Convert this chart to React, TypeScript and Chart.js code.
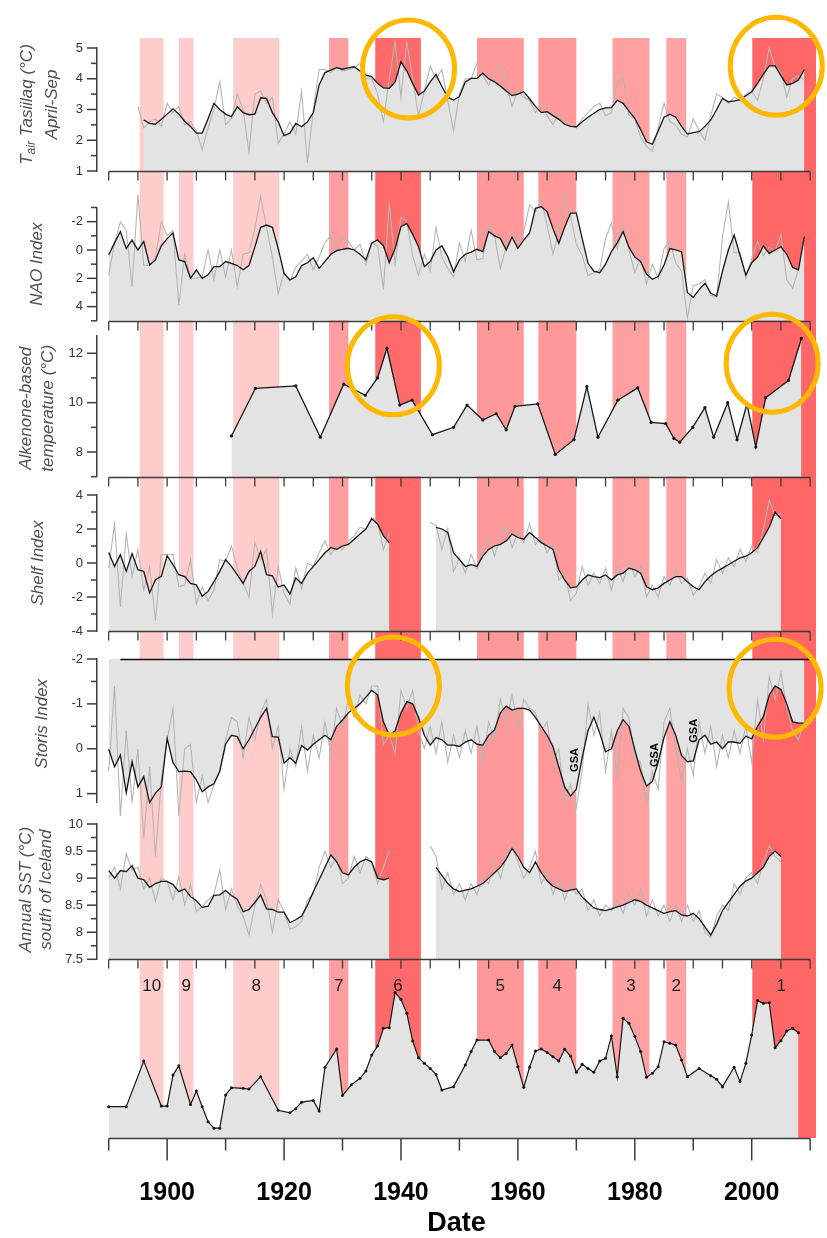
import React, { useEffect, useRef } from 'react';
import { Chart, registerables } from 'chart.js';

Chart.register(...registerables);

// ---------------- data ----------------

// Air temperature at Tasiilaq, April–September (°C)
const TAS_ANNUAL_START = 1895;
const tasAnnual = [
  3.1, 2.4, 2.6, 2.7, 2.45, 3.2, 2.9, 3.1, 2.5, 2.6,
  2.3, 1.7, 2.4, 3.0, 3.9, 2.5, 2.7, 3.5, 3.0, 1.6,
  3.5, 3.6, 3.2, 3.4, 1.9, 2.2, 2.6, 2.2, 3.6, 1.25,
  3.0, 4.3, 4.3, 4.2, 4.4, 4.25, 4.3, 4.35, 4.5, 4.0,
  4.0, 3.5, 2.6, 4.0, 5.2, 3.4, 5.2, 4.0, 2.8, 3.6,
  4.4, 4.0, 4.3, 3.3, 2.3, 3.5, 4.0, 4.0, 4.5, 4.1,
  3.8, 4.2, 4.4, 3.8, 3.1, 3.6, 3.4, 3.3, 2.9, 3.1,
  2.8, 2.5, 2.9, 2.6, 2.5, 2.4, 2.7, 2.9, 3.1, 3.2,
  2.8, 2.9, 3.9, 4.05, 2.8, 2.7, 2.1, 1.8, 1.65, 2.4,
  3.2, 2.6, 2.5, 2.2, 2.1, 2.7, 2.3, 2.0, 2.8, 3.5,
  3.4, 3.2, 3.4, 3.3, 3.5, 3.6, 3.3, 4.0, 5.0, 4.4,
  4.2, 3.4, 4.0, 4.1, 3.95,
];
const TAS_SMOOTH_START = 1896;
const tasSmooth = [
  2.66, 2.55, 2.52, 2.68, 2.85, 3.02, 2.85, 2.62, 2.45, 2.23,
  2.23, 2.7, 3.2, 3.0, 2.85, 2.77, 3.09, 2.9, 2.83, 2.85,
  3.38, 3.36, 2.9, 2.6, 2.15, 2.23, 2.55, 2.44, 2.6, 2.9,
  3.8, 4.2, 4.28, 4.36, 4.31, 4.35, 4.39, 4.25, 4.12, 4.07,
  3.85, 3.7, 3.69, 3.9, 4.55, 4.25, 3.85, 3.47, 3.6, 3.9,
  4.14, 3.75, 3.4, 3.31, 3.42, 3.9, 4.01, 4.01, 4.18, 4.0,
  3.9, 3.76, 3.6, 3.45, 3.5, 3.58, 3.35, 3.1, 2.9, 2.93,
  2.8, 2.68, 2.52, 2.45, 2.44, 2.6, 2.75, 2.88, 3.0, 3.05,
  3.06, 3.3, 3.2, 2.95, 2.71, 2.35, 1.95, 1.87, 2.3, 2.75,
  2.85, 2.75, 2.45, 2.2, 2.25, 2.28, 2.45, 2.66, 3.0, 3.36,
  3.25, 3.28, 3.31, 3.45, 3.58, 3.85, 4.15, 4.42, 4.42, 4.1,
  3.8, 3.85, 3.96, 4.3,
];

// North Atlantic Oscillation index
const NAO_START = 1890;
const naoAnnual = [
  1.8, -0.5, -2.0, -1.4, 2.6, -3.9, 1.1, 1.1, 0.5, -2.0,
  -1.0, -1.4, 3.9, 0.3, 2.0, 2.0, 1.9, 0.0, 2.1, 0.0,
  1.9, 0.0, 2.6, 0.3, 0.2, -1.5, -3.8, -1.6, 0.5, 3.1,
  1.6, 2.2, 1.2, 0.8, 0.3, 1.4, 0.5, -0.5, -1.0, 0.0,
  -0.9, -0.6, 0.0, -0.4, 1.0, -0.5, -0.3, 2.8, -3.3, 1.0,
  -2.3, -2.0, 0.4, 1.8, 0.3, 1.5, -1.6, 0.5, 1.3, 1.9,
  -0.5, 0.8, -1.4, 0.7, 0.6, -1.8, -1.0, 1.3, -0.2, -1.2,
  -0.5, -1.3, -3.2, -2.7, -3.5, -1.8, 0.3, -1.3, -3.9, -2.4,
  -0.4, 0.4, 1.8, 1.6, 1.4, -0.8, -1.9, -0.1, -1.7, 0.0,
  1.6, 0.5, 2.4, 1.0, 2.0, -0.1, -0.6, 0.9, 1.5, 4.8,
  2.5, 2.4, 2.1, 3.2, 3.3, -0.9, -3.4, 0.2, 0.2, 2.0,
  0.6, -0.6, 0.4, -0.2, 0.1, -1.1, 2.1, 2.7, 1.4,
];
const naoSmooth = [
  0.35, -0.5, -1.3, -0.1, -0.7, 0.0, -0.6, 1.06, 0.7, -0.3,
  -0.8, -1.2, 0.7, 0.82, 2.0, 1.4, 2.0, 1.75, 1.18, 1.18,
  0.82, 0.95, 1.1, 1.4, 1.1, -0.2, -1.6, -1.76, -1.6, -0.1,
  1.65, 2.12, 1.9, 1.1, 0.9, 0.55, 1.3, 0.8, 0.3, 0.05,
  -0.05, -0.12, 0.0, 0.3, 0.7, -0.5, -0.7, -0.3, 0.9, -0.1,
  -1.65, -1.88, -1.1, -0.23, 1.18, 0.82, 0.0, -0.3, 0.47, 1.53,
  0.7, 0.3, 0.15, -0.05, 0.12, -1.3, -1.0, -0.82, 0.0, -0.9,
  -0.12, -0.7, -1.2, -2.94, -3.06, -2.7, -1.5, -0.47, -1.6, -2.6,
  -2.6, -0.82, 0.94, 1.5, 1.6, 1.0, 0.12, -0.5, -1.3, -0.2,
  0.5, 0.82, 1.7, 2.07, 1.88, 1.06, -0.1, 0.0, 0.12, 3.0,
  3.35, 2.8, 2.35, 3.06, 3.25, 1.5, 0.0, -1.06, 0.35, 1.76,
  0.9, 0.5, -0.28, 0.24, 0.0, -0.23, 0.3, 1.23, 1.4, -0.94,
];

// Alkenone-based temperature (°C), sampled at irregular years
const alkYears = [
  1911, 1915.1, 1922, 1926.2, 1930.2, 1933.9, 1936, 1937.6, 1939.8, 1941.9,
  1945.4, 1949, 1951.3, 1954, 1956.3, 1958, 1959.5, 1963.4, 1966.4, 1969.6,
  1971.8, 1973.7, 1977.1, 1980.5, 1982.8, 1985.3, 1986.7, 1987.7, 1989.9, 1992,
  1993.5, 1995.9, 1997.5, 1999.2, 2000.7, 2002.4, 2006.3, 2008.5,
];
const alkValues = [
  8.65, 10.58, 10.68, 8.6, 10.75, 10.3, 11.0, 12.2, 9.9, 10.1,
  8.7, 9.0, 9.9, 9.3, 9.55, 8.9, 9.85, 9.95, 7.9, 8.5,
  10.65, 8.6, 10.1, 10.6, 9.2, 9.15, 8.55, 8.4, 9.0, 9.8,
  8.6, 10.0, 8.5, 9.95, 8.2, 10.2, 10.9, 12.6,
];

// Shelf index, two record segments
const SHELF_A_START = 1890;
const shelfAnnualA = [
  -0.3, 2.3, -2.6, 1.7, -0.8, 0.8, -1.6, -0.2, -3.4, 0.5,
  0.5, 0.5, -1.4, -1.3, 0.2, -2.4, -1.4, -2.2, -1.6, 0.2,
  0.1, 1.0, -0.3, -1.2, -2.0, 1.2, 0.2, 0.8, -3.0, -0.2,
  -1.8, -2.4, -0.3, -1.5, 0.0, -0.2, 0.6, 1.3, 0.5, 1.0,
  0.8, 1.3, 1.6, 2.1, 2.0, 2.7, 2.4, 0.8, 1.8,
];
const shelfSmoothA = [
  0.62, -0.2, 0.49, -0.49, 0.55, -0.39, -0.5, -1.76, -0.98, -0.79,
  0.43, -0.1, -0.69, -0.8, -1.2, -1.29, -1.96, -1.67, -1.1, -0.49,
  0.2, -0.2, -0.7, -1.2, -0.5, -0.2, 0.68, -0.69, -0.75, -1.41,
  -1.29, -1.82, -0.88, -1.2, -0.6, -0.2, 0.2, 0.6, 0.9, 0.8,
  1.0, 1.1, 1.4, 1.7, 2.0, 2.6, 2.3, 1.6, 1.2,
];
const SHELF_B_ANNUAL_START = 1945;
const shelfAnnualB = [
  2.4, 2.2, 0.8, 2.0, -0.5, 0.3, -0.6, 0.5, -0.3, 0.8,
  1.6, 0.4, 1.5, 2.2, 0.9, 1.8, 1.2, 2.3, 1.1, 1.5,
  0.6, 1.2, -1.0, -0.6, -2.2, -1.8, -0.2, -1.3, -0.6, -1.2,
  -0.3, -1.6, -0.2, -1.1, 0.1, -0.8, -0.2, -2.0, -1.3, -2.0,
  -0.8, -1.3, -0.4, -1.2, -0.9, -1.9, -1.4, -0.6, -1.2, 0.2,
  -0.6, 0.3, -0.2, 0.8, 0.1, 1.0, 0.6, 2.0, 3.7, 2.8,
  2.9,
];
const SHELF_B_SMOOTH_START = 1946;
const shelfSmoothB = [
  2.1, 2.0, 1.8, 0.6, 0.2, -0.2, -0.1, -0.2, 0.4, 0.8,
  1.0, 1.1, 1.3, 1.7, 1.5, 1.4, 1.8, 1.5, 1.2, 1.0,
  0.8, -0.4, -1.0, -1.46, -1.4, -1.0, -0.7, -0.8, -0.86, -0.7,
  -1.0, -0.7, -0.6, -0.3, -0.4, -0.6, -1.4, -1.57, -1.46, -1.2,
  -1.0, -0.8, -0.8, -1.1, -1.4, -1.57, -1.1, -0.75, -0.5, -0.3,
  -0.1, 0.1, 0.3, 0.4, 0.6, 0.9, 1.5, 2.1, 3.0, 2.6,
];

// Storis index
const STORIS_START = 1890;
const storisAnnual = [
  0.5, -1.4, 1.5, -0.4, 1.2, 0.0, 2.0, 0.4, 2.4, 0.7,
  -0.2, -0.9, 1.5, 0.0, -0.1, 1.2, 0.6, 1.2, 0.8, 0.5,
  -0.2, -0.7, -0.6, 0.2, -0.7, -0.2, -0.8, -1.1, 0.0, -0.5,
  0.9, 0.0, 0.4, -0.5, 0.5, -0.3, 0.2, -0.6, 0.1, -0.9,
  -0.5, -1.1, -0.7, -1.2, -1.0, -1.4, -1.4, -0.1, -0.3, 0.1,
  -1.3, -0.9, -1.3, -0.4, 0.0, -0.5, 0.1, -0.6, 0.3, -0.3,
  0.2, -0.4, 0.1, -0.5, 0.3, -0.6, -0.2, -1.1, -0.6, -1.2,
  -0.5, -1.1, -0.9, -0.8, -0.4, -0.6, 0.3, 0.0, 1.2, 0.8,
  1.3, 0.5, -1.0, -0.3, -0.8, 0.5, -0.4, 0.6, -0.9, -0.7,
  0.2, 0.3, 1.2, 0.5, 0.9, -0.6, -0.9, 0.0, 0.7, 0.0,
  0.6, -0.6, 0.1, -0.5, 0.4, -0.3, 0.2, -0.4, 0.1, -0.5,
  0.3, -1.1, -0.2, -1.6, -1.1, -1.7, -0.9, -0.4, -0.2, -0.6,
];
const storisSmooth = [
  0.01, 0.4, 0.14, 0.98, 0.29, 0.85, 0.62, 1.2, 0.99, 0.85,
  -0.23, 0.31, 0.51, 0.5, 0.51, 0.7, 0.96, 0.85, 0.78, 0.5,
  -0.1, -0.3, -0.27, 0.0, -0.2, -0.45, -0.7, -0.9, -0.27, -0.26,
  0.32, 0.2, 0.32, -0.07, 0.03, -0.1, -0.2, -0.3, -0.2, -0.5,
  -0.64, -0.8, -0.9, -1.0, -1.15, -1.3, -1.2, -0.6, -0.3, -0.4,
  -0.8, -1.05, -1.0, -0.7, -0.3, -0.08, -0.25, -0.2, -0.08, -0.08,
  -0.05, -0.15, -0.2, -0.1, -0.08, -0.3, -0.42, -0.8, -0.95, -0.86,
  -0.9, -0.9, -0.86, -0.7, -0.5, -0.3, -0.05, 0.4, 0.85, 1.05,
  0.9, 0.2, -0.4, -0.7, -0.35, 0.07, 0.0, -0.4, -0.65, -0.5,
  0.02, 0.5, 0.83, 0.73, 0.3, -0.25, -0.6, -0.3, 0.15, 0.29,
  0.27, -0.2, -0.3, -0.1, -0.15, 0.0, -0.15, -0.15, -0.12, -0.28,
  -0.22, -0.5, -0.72, -1.2, -1.4, -1.32, -1.0, -0.6, -0.57, -0.57,
];

// Annual SST south of Iceland (°C), two record segments
const SST_A_START = 1890;
const sstAnnualA = [
  9.0, 9.2, 8.8, 9.45, 9.15, 9.2, 8.8, 9.0, 8.57, 9.0,
  8.94, 8.6, 9.03, 8.5, 8.88, 8.38, 8.48, 8.6, 8.7, 9.15,
  8.42, 8.8, 8.48, 8.3, 7.95, 8.48, 8.88, 8.6, 8.0, 8.6,
  8.38, 8.05, 8.1, 8.2, 8.6, 8.7, 9.2, 9.5, 9.2, 9.4,
  8.9, 9.0, 9.4, 9.1, 9.4, 9.3, 8.9, 9.2, 9.5,
];
const sstSmoothA = [
  9.14, 9.0, 9.14, 9.12, 9.23, 9.0, 8.97, 8.83, 8.9, 8.94,
  8.94, 8.88, 8.75, 8.8, 8.66, 8.58, 8.46, 8.48, 8.68, 8.69,
  8.77, 8.68, 8.61, 8.38, 8.42, 8.55, 8.69, 8.43, 8.42, 8.37,
  8.37, 8.18, 8.23, 8.3, 8.5, 8.75, 8.97, 9.2, 9.43, 9.3,
  9.1, 9.06, 9.2, 9.3, 9.35, 9.3, 9.0, 8.97, 9.0,
];
const SST_B_ANNUAL_START = 1945;
const sstAnnualB = [
  9.6, 9.4, 8.8, 9.1, 8.7, 8.9, 8.6, 8.9, 8.7, 9.0,
  8.9, 9.3, 9.0, 9.4, 9.6, 9.3, 9.0, 9.2, 9.5, 8.9,
  9.1, 8.7, 9.0, 8.6, 8.9, 8.7, 8.8, 8.4, 8.6, 8.3,
  8.5, 8.4, 8.6, 8.35, 8.7, 8.5, 8.8, 8.3, 8.6, 8.3,
  8.5, 8.2, 8.5, 8.2, 8.5, 8.2, 8.4, 8.0, 7.9, 8.3,
  8.5, 8.4, 8.9, 8.7, 9.0, 9.1, 8.9, 9.3, 9.6, 9.4,
  9.3,
];
const SST_B_SMOOTH_START = 1946;
const sstSmoothB = [
  9.2, 9.05, 8.9, 8.8, 8.75, 8.78, 8.8, 8.85, 8.9, 9.0,
  9.1, 9.2, 9.35, 9.55, 9.4, 9.2, 9.1, 9.3, 9.1, 8.95,
  8.85, 8.8, 8.75, 8.78, 8.8, 8.65, 8.55, 8.45, 8.42, 8.4,
  8.43, 8.47, 8.5, 8.55, 8.6, 8.57, 8.5, 8.45, 8.4, 8.35,
  8.38, 8.4, 8.32, 8.3, 8.35, 8.25, 8.1, 7.95, 8.15, 8.4,
  8.55, 8.7, 8.85, 8.95, 9.0, 9.1, 9.2, 9.4, 9.5, 9.4,
];

// Composite warm-event record (bottom panel, unitless)
const compYears = [
  1890, 1893, 1896, 1899, 1900, 1901, 1902, 1904, 1905, 1906,
  1907, 1908, 1909, 1910, 1911, 1913, 1914, 1916, 1919, 1921,
  1922, 1923, 1925, 1926, 1927, 1929, 1930, 1931.5, 1933, 1934,
  1935, 1936, 1937, 1938, 1939, 1940, 1941, 1942, 1943, 1944,
  1945, 1946, 1947, 1949, 1951, 1952, 1953, 1955, 1956, 1957,
  1958, 1959, 1960, 1961, 1962, 1963, 1964, 1965, 1966, 1967,
  1968, 1969, 1970, 1971, 1972, 1973, 1974, 1975, 1976, 1977,
  1978, 1979, 1980, 1981, 1982, 1983, 1984, 1985, 1986, 1987,
  1988, 1989, 1991, 1993, 1994, 1995, 1997, 1998, 1999, 2000,
  2001, 2002, 2003, 2004, 2005, 2006, 2007, 2008,
];
const compValues = [
  1.92, 1.92, 4.72, 1.96, 1.96, 3.86, 4.43, 2.06, 2.88, 1.92,
  1.0, 0.6, 0.6, 2.64, 3.09, 3.05, 3.0, 3.76, 1.7, 1.55,
  1.8, 2.2, 2.3, 1.65, 4.34, 5.46, 2.6, 3.26, 3.66, 4.11,
  5.09, 5.64, 6.73, 6.77, 8.92, 8.51, 7.65, 5.95, 4.93, 4.58,
  4.27, 3.9, 2.94, 3.15, 4.48, 5.3, 6.01, 6.01, 5.3, 4.93,
  5.19, 5.7, 4.37, 3.11, 4.34, 5.34, 5.46, 5.25, 4.99, 4.72,
  5.44, 5.03, 4.03, 4.52, 4.27, 4.03, 4.72, 4.89, 6.26, 3.76,
  7.34, 7.04, 6.22, 5.3, 3.72, 3.97, 4.37, 5.91, 5.81, 5.7,
  4.78, 3.76, 4.27, 3.82, 3.6, 3.15, 4.34, 3.46, 4.58, 6.32,
  8.43, 8.26, 8.3, 5.54, 5.97, 6.56, 6.73, 6.46,
];

// Warm periods shaded behind every panel, numbered from the most recent
const bandStart = [1895.3, 1902.0, 1911.3, 1927.7, 1935.6, 1953.0, 1963.5, 1976.2, 1985.4, 2000.1];
const bandEnd = [1899.4, 1904.5, 1919.2, 1931.0, 1943.4, 1961.0, 1970.0, 1982.5, 1988.8, 2011.0];
const bandLabels = ['10', '9', '8', '7', '6', '5', '4', '3', '2', '1'];
const bandColors = ['#FFCCCC', '#FFCCCC', '#FFCCCC', '#FF9E9E', '#FF6A6A', '#FF9999', '#FF9999', '#FFA0A0', '#FFA4A4', '#FF6666'];

// Great Salinity Anomaly markers on the Storis panel
const gsaYears = [1969.8, 1983.5, 1990.1];
const gsaValues = [0.25, 0.14, -0.4];

// Highlighted warm peaks
const ringAxes = ['yTas', 'yTas', 'yAlk', 'yAlk', 'yStoris', 'yStoris'];
const ringYears = [1941.3, 2004.2, 1938.7, 2003.5, 1938.7, 2004.0];
const ringValues = [4.32, 4.41, 11.49, 11.6, -1.4, -1.35];

// Tick values
const yearLabels = [1900, 1920, 1940, 1960, 1980, 2000];
const bottomTickYears = [1890, 1900, 1910, 1920, 1930, 1940, 1950, 1960, 1970, 1980, 1990, 2000, 2010];
const panelTickYears = [
  1890, 1895, 1900, 1905, 1910, 1915, 1920, 1925, 1930, 1935, 1940, 1945, 1950,
  1955, 1960, 1965, 1970, 1975, 1980, 1985, 1990, 1995, 2000, 2005, 2010,
];
const tasMajor = [1, 2, 3, 4, 5];
const tasMinor = [1.5, 2.5, 3.5, 4.5];
const naoMajor = [-2, 0, 2, 4];
const naoMinor = [-3, -1, 1, 3, 5];
const alkMajor = [8, 10, 12];
const alkMinor = [7, 9, 11];
const shelfMajor = [-4, -2, 0, 2, 4];
const shelfMinor = [-3, -1, 1, 3];
const storisMajor = [-2, -1, 0, 1];
const storisMinor = [-1.5, -0.5, 0.5];
const sstMajor = [7.5, 8, 8.5, 9, 9.5, 10];
const sstMinor = [7.75, 8.25, 8.75, 9.25, 9.75];

// ---------------- styling ----------------
const FONT = "'Liberation Sans', Arial, Helvetica, sans-serif";
const AXIS_COLOR = '#3c3c3c';
const AREA_FILL = '#E3E3E3';
const ANNUAL_LINE = '#B5B5B5';
const SMOOTH_LINE = '#161616';
const RING_COLOR = '#FFB800';
const AXIS_BOX_W = 97;

const byYear = (start: number, vals: number[]) => vals.map((v, i) => ({ x: start + i, y: v }));
const paired = (xs: number[], ys: number[]) => xs.map((x, i) => ({ x, y: ys[i] }));

const areaSet = (data: any[], axis: string, fill: string) => ({
  data, yAxisID: axis, borderWidth: 0, borderColor: 'rgba(0,0,0,0)', pointRadius: 0,
  fill, backgroundColor: AREA_FILL, order: 3,
});
const annualSet = (data: any[], axis: string) => ({
  data, yAxisID: axis, borderColor: ANNUAL_LINE, borderWidth: 1.1, pointRadius: 0,
  fill: false, order: 2, clip: false,
});
const smoothSet = (data: any[], axis: string) => ({
  data, yAxisID: axis, borderColor: SMOOTH_LINE, borderWidth: 1.3, pointRadius: 0,
  fill: false, order: 1, clip: false,
});

const fixWidth = (s: any) => { s.width = AXIS_BOX_W; };

const panelAxis = (min: number, max: number, majors: number[], stackWeight: number, weight: number, reverse = false) => ({
  type: 'linear', position: 'left', stack: 'panels', stackWeight, weight, min, max, reverse,
  afterFit: fixWidth,
  afterBuildTicks: (s: any) => { s.ticks = majors.map((v) => ({ value: v })); },
  ticks: { callback: (v: any) => String(v), font: { family: FONT, size: 13 }, color: '#333', padding: 14, autoSkip: false },
  grid: { display: false, drawTicks: false },
  border: { display: true, color: AXIS_COLOR, width: 1.5 },
});

const spacerAxis = (stackWeight: number, weight: number) => ({
  type: 'linear', position: 'left', stack: 'panels', stackWeight, weight,
  afterFit: fixWidth,
  ticks: { display: false },
  grid: { display: false, drawTicks: false },
  border: { display: false },
});

const yTickSpecs = [
  { axis: 'yTas', major: tasMajor, minor: tasMinor },
  { axis: 'yNAO', major: naoMajor, minor: naoMinor },
  { axis: 'yAlk', major: alkMajor, minor: alkMinor },
  { axis: 'yShelf', major: shelfMajor, minor: shelfMinor },
  { axis: 'yStoris', major: storisMajor, minor: storisMinor },
  { axis: 'ySST', major: sstMajor, minor: sstMinor },
];
const baseAxes = ['yTas', 'yNAO', 'yAlk', 'yShelf', 'ySST'];

type Seg = { t: string; sub?: boolean };
const titleSpecs: { axis: string; lines: Seg[][]; xs: number[]; dy: number }[] = [
  { axis: 'yTas', lines: [[{ t: 'T' }, { t: 'air', sub: true }, { t: ' Tasiilaq (°C)' }], [{ t: 'April-Sep' }]], xs: [27, 52], dy: -5 },
  { axis: 'yNAO', lines: [[{ t: 'NAO Index' }]], xs: [37], dy: 0 },
  { axis: 'yAlk', lines: [[{ t: 'Alkenone-based' }], [{ t: 'temperature (°C)' }]], xs: [26, 48], dy: 2 },
  { axis: 'yShelf', lines: [[{ t: 'Shelf Index' }]], xs: [38], dy: 0 },
  { axis: 'yStoris', lines: [[{ t: 'Storis Index' }]], xs: [42], dy: -7 },
  { axis: 'ySST', lines: [[{ t: 'Annual SST (°C)' }], [{ t: 'south of Iceland' }]], xs: [26, 46], dy: -2 },
];

const line = (ctx: CanvasRenderingContext2D, x1: number, y1: number, x2: number, y2: number) => {
  ctx.beginPath();
  ctx.moveTo(x1, y1);
  ctx.lineTo(x2, y2);
  ctx.stroke();
};

const decorPlugin = {
  id: 'decor',
  beforeDraw(chart: any) {
    const { ctx, chartArea, scales } = chart;
    const xs = scales.x;
    ctx.save();
    for (let i = 0; i < bandStart.length; i++) {
      const a = xs.getPixelForValue(bandStart[i]);
      const b = xs.getPixelForValue(bandEnd[i]);
      ctx.fillStyle = bandColors[i];
      ctx.fillRect(a, chartArea.top - 10, b - a, chartArea.bottom - chartArea.top + 10);
    }
    ctx.restore();
  },
  afterDatasetsDraw(chart: any) {
    const { ctx, chartArea, scales } = chart;
    const xs = scales.x;
    const x1890 = xs.getPixelForValue(1890);
    const x2010 = xs.getPixelForValue(2010);
    ctx.save();
    ctx.strokeStyle = AXIS_COLOR;
    ctx.lineWidth = 1.5;

    // y-axis tick marks
    for (const spec of yTickSpecs) {
      const s = scales[spec.axis];
      const ax = s.right;
      spec.major.forEach((v) => { const y = s.getPixelForValue(v); line(ctx, ax - 10, y, ax, y); });
      spec.minor.forEach((v) => { const y = s.getPixelForValue(v); line(ctx, ax - 6, y, ax, y); });
    }

    // x axis under each panel
    ctx.lineWidth = 1.3;
    for (const id of baseAxes) {
      const y = Math.round(scales[id].bottom) + 0.5;
      line(ctx, x1890, y, x2010, y);
      panelTickYears.forEach((t) => { const px = xs.getPixelForValue(t); line(ctx, px, y, px, y + 9); });
    }

    // main date axis
    ctx.lineWidth = 1.5;
    const yb = Math.round(chartArea.bottom) + 0.5;
    line(ctx, x1890, yb, x2010, yb);
    bottomTickYears.forEach((t) => {
      const px = xs.getPixelForValue(t);
      line(ctx, px, yb, px, yb + (yearLabels.includes(t) ? 22 : 12));
    });

    // frame line closing the top of the Storis area
    const st = scales.yStoris;
    ctx.strokeStyle = '#111';
    ctx.lineWidth = 1.4;
    line(ctx, xs.getPixelForValue(1892), st.top + 0.5, x2010, st.top + 0.5);

    // rotated axis titles
    ctx.fillStyle = '#505050';
    for (const spec of titleSpecs) {
      const s = scales[spec.axis];
      const cy = (s.top + s.bottom) / 2 + spec.dy;
      spec.lines.forEach((segs, li) => {
        ctx.save();
        ctx.translate(spec.xs[li], cy);
        ctx.rotate(-Math.PI / 2);
        ctx.textBaseline = 'middle';
        ctx.textAlign = 'left';
        const big = `italic 17px ${FONT}`;
        const small = `italic 12px ${FONT}`;
        let total = 0;
        segs.forEach((sg) => { ctx.font = sg.sub ? small : big; total += ctx.measureText(sg.t).width; });
        let pos = -total / 2;
        segs.forEach((sg) => {
          ctx.font = sg.sub ? small : big;
          ctx.fillText(sg.t, pos, sg.sub ? 5 : 0);
          pos += ctx.measureText(sg.t).width;
        });
        ctx.restore();
      });
    }

    // warm-period numbers
    const yc = scales.yComp;
    ctx.fillStyle = '#1a1a1a';
    ctx.font = `17px ${FONT}`;
    ctx.textAlign = 'center';
    ctx.textBaseline = 'middle';
    for (let i = 0; i < bandLabels.length; i++) {
      const cx = (xs.getPixelForValue(bandStart[i]) + xs.getPixelForValue(Math.min(bandEnd[i], 2010))) / 2;
      ctx.fillText(bandLabels[i], cx, yc.top + 11);
    }

    // GSA labels
    ctx.font = `bold 11px ${FONT}`;
    ctx.fillStyle = '#000';
    for (let i = 0; i < gsaYears.length; i++) {
      ctx.save();
      ctx.translate(xs.getPixelForValue(gsaYears[i]), st.getPixelForValue(gsaValues[i]));
      ctx.rotate(-Math.PI / 2);
      ctx.fillText('GSA', 0, 0);
      ctx.restore();
    }

    // rings around the warm peaks
    ctx.strokeStyle = RING_COLOR;
    ctx.lineWidth = 5;
    for (let i = 0; i < ringYears.length; i++) {
      const s = scales[ringAxes[i]];
      ctx.beginPath();
      ctx.ellipse(xs.getPixelForValue(ringYears[i]), s.getPixelForValue(ringValues[i]), 46, 49, 0, 0, Math.PI * 2);
      ctx.stroke();
    }
    ctx.restore();
  },
};

export default function App() {
  const canvasRef = useRef<HTMLCanvasElement | null>(null);

  useEffect(() => {
    if (!canvasRef.current) return;

    const datasets: any[] = [
      areaSet(byYear(TAS_SMOOTH_START, tasSmooth), 'yTas', 'start'),
      annualSet(byYear(TAS_ANNUAL_START, tasAnnual), 'yTas'),
      smoothSet(byYear(TAS_SMOOTH_START, tasSmooth), 'yTas'),

      areaSet(byYear(NAO_START, naoSmooth), 'yNAO', 'start'),
      annualSet(byYear(NAO_START, naoAnnual), 'yNAO'),
      smoothSet(byYear(NAO_START, naoSmooth), 'yNAO'),

      areaSet(paired(alkYears, alkValues), 'yAlk', 'start'),
      {
        data: paired(alkYears, alkValues), yAxisID: 'yAlk', borderColor: SMOOTH_LINE, borderWidth: 1.3,
        pointRadius: 1.6, pointBackgroundColor: SMOOTH_LINE, pointBorderWidth: 0, fill: false, order: 1, clip: false,
      },

      areaSet(byYear(SHELF_A_START, shelfSmoothA), 'yShelf', 'start'),
      annualSet(byYear(SHELF_A_START, shelfAnnualA), 'yShelf'),
      smoothSet(byYear(SHELF_A_START, shelfSmoothA), 'yShelf'),
      areaSet(byYear(SHELF_B_SMOOTH_START, shelfSmoothB), 'yShelf', 'start'),
      annualSet(byYear(SHELF_B_ANNUAL_START, shelfAnnualB), 'yShelf'),
      smoothSet(byYear(SHELF_B_SMOOTH_START, shelfSmoothB), 'yShelf'),

      areaSet(byYear(STORIS_START, storisSmooth), 'yStoris', 'end'),
      annualSet(byYear(STORIS_START, storisAnnual), 'yStoris'),
      smoothSet(byYear(STORIS_START, storisSmooth), 'yStoris'),

      areaSet(byYear(SST_A_START, sstSmoothA), 'ySST', 'start'),
      annualSet(byYear(SST_A_START, sstAnnualA), 'ySST'),
      smoothSet(byYear(SST_A_START, sstSmoothA), 'ySST'),
      areaSet(byYear(SST_B_SMOOTH_START, sstSmoothB), 'ySST', 'start'),
      annualSet(byYear(SST_B_ANNUAL_START, sstAnnualB), 'ySST'),
      smoothSet(byYear(SST_B_SMOOTH_START, sstSmoothB), 'ySST'),

      {
        data: paired(compYears, compValues), yAxisID: 'yComp', borderColor: SMOOTH_LINE, borderWidth: 1.2,
        pointRadius: 1.5, pointBackgroundColor: SMOOTH_LINE, pointBorderWidth: 0,
        fill: 'start', backgroundColor: AREA_FILL, order: 1, clip: false,
      },
    ];

    const chart = new Chart(canvasRef.current, {
      type: 'line',
      data: { datasets },
      options: {
        animation: false,
        responsive: false,
        devicePixelRatio: 1,
        layout: { padding: { top: 48, right: 11, bottom: 0, left: 0 } },
        plugins: { legend: { display: false }, tooltip: { enabled: false } },
        elements: { line: { tension: 0 } },
        scales: {
          x: {
            type: 'linear', position: 'bottom', min: 1888, max: 2011,
            afterFit: (s: any) => { s.height = 100; },
            afterBuildTicks: (s: any) => { s.ticks = yearLabels.map((v) => ({ value: v })); },
            ticks: { callback: (v: any) => String(v), font: { family: FONT, size: 25, weight: 'bold' }, color: '#000', padding: 40, maxRotation: 0, autoSkip: false },
            grid: { display: false, drawTicks: false },
            border: { display: false },
            title: { display: true, text: 'Date', font: { family: FONT, size: 27, weight: 'bold', lineHeight: 1.1 }, color: '#000', padding: { top: 0, bottom: 0 } },
          },
          // stacked left axes, bottom panel first
          yComp: { ...panelAxis(0, 10, [], 163, 1), ticks: { display: false }, border: { display: false } },
          gap6: spacerAxis(15.7, 2),
          ySST: panelAxis(7.5, 10, sstMajor, 135.3, 3),
          gap5: spacerAxis(21.4, 4),
          yStoris: panelAxis(-2, 1.2, storisMajor, 143.6, 5, true),
          gap4: spacerAxis(28, 6),
          yShelf: panelAxis(-4, 4, shelfMajor, 136, 7),
          gap3: spacerAxis(18.3, 8),
          yAlk: panelAxis(7, 12.7, alkMajor, 140.7, 9),
          gap2: spacerAxis(15.2, 10),
          yNAO: panelAxis(-3, 5, naoMajor, 113.3, 11, true),
          gap1: spacerAxis(36.5, 12),
          yTas: panelAxis(1, 5, tasMajor, 123, 13),
        } as any,
      },
      plugins: [decorPlugin],
    } as any);

    return () => chart.destroy();
  }, []);

  return (
    <div style={{ position: 'absolute', left: 0, top: 0, width: 827, height: 1238, background: '#fff' }}>
      <canvas ref={canvasRef} width={827} height={1238} style={{ width: 827, height: 1238, display: 'block' }} />
    </div>
  );
}
